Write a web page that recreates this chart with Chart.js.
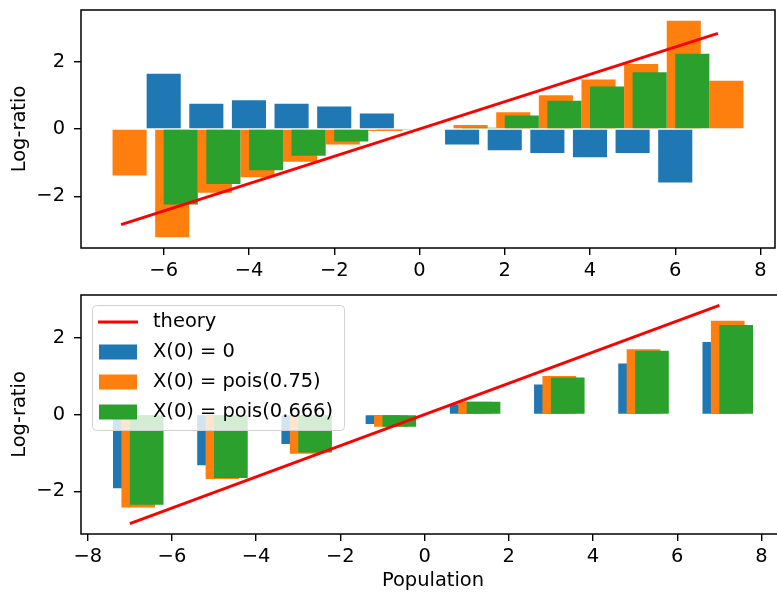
<!DOCTYPE html>
<html>
<head>
<meta charset="utf-8">
<script src="https://cdn.jsdelivr.net/npm/chart.js@4.4.1/dist/chart.umd.min.js"></script>
<style>
  html, body { margin: 0; padding: 0; background: #fff; }
  #wrap { position: relative; width: 777px; height: 593px; overflow: hidden; }
  canvas { position: absolute; left: 0; }
</style>
</head>
<body>
<div id="wrap">
  <canvas id="topChart" width="810" height="285" style="top:0"></canvas>
  <canvas id="botChart" width="810" height="308" style="top:285px"></canvas>
</div>
<script>
// 上段　各母集団の対数比
const topBluePos = [-6, -5, -4, -3, -2, -1, 1, 2, 3, 4, 5, 6];
const topBlue = [1.64, 0.75, 0.85, 0.75, 0.67, 0.46, -0.46, -0.63, -0.71, -0.84, -0.71, -1.59];
const topOrangePos = [-6.8, -5.8, -4.8, -3.8, -2.8, -1.8, -0.8, 1.2, 2.2, 3.2, 4.2, 5.2, 6.2, 7.2];
const topOrange = [-1.38, -3.21, -1.89, -1.43, -0.97, -0.46, -0.06, 0.12, 0.50, 1.00, 1.47, 1.93, 3.21, 1.43];
const topGreenPos = [-5.6, -4.6, -3.6, -2.6, -1.6, -0.6, 1.4, 2.4, 3.4, 4.4, 5.4, 6.4];
const topGreen = [-2.24, -1.63, -1.22, -0.79, -0.37, -0.03, 0.04, 0.40, 0.84, 1.26, 1.68, 2.23];

// 下段
const botBluePos = [-7, -5, -3, -1, 1, 3, 5, 7];
const botBlue = [-1.92, -1.32, -0.77, -0.25, 0.27, 0.78, 1.33, 1.89];
const botOrangePos = [-6.8, -4.8, -2.8, -0.8, 1.2, 3.2, 5.2, 7.2];
const botOrange = [-2.42, -1.68, -1.02, -0.32, 0.33, 1.00, 1.70, 2.44];
const botGreenPos = [-6.6, -4.6, -2.6, -0.6, 1.4, 3.4, 5.4, 7.4];
const botGreen = [-2.35, -1.65, -0.99, -0.32, 0.33, 0.96, 1.66, 2.33];

// 理論値（直線）
const theoryX = [-7, 7];
const theoryY = [-2.84, 2.84];

const seriesLabels = ['theory', 'X(0) = 0', 'X(0) = pois(0.75)', 'X(0) = pois(0.666)'];

// 軸
const topXTicks = [-6, -4, -2, 0, 2, 4, 6, 8];
const botXTicks = [-8, -6, -4, -2, 0, 2, 4, 6, 8];
const yTicks = [-2, 0, 2];
const topXRange = [-7.94, 8.34];
const botXRange = [-8.16, 8.56];
const topYRange = [-3.53, 3.53];
const botYRange = [-3.11, 3.11];

const fontPx = 19.44;
Chart.defaults.font.family = '"DejaVu Sans", sans-serif';
Chart.defaults.font.size = fontPx;
Chart.defaults.color = '#000';

const colors = ['#ff0000', '#1f77b4', '#ff7f0e', '#2ca02c'];

function pts(xs, ys) {
  return xs.map((x, i) => ({ x: x, y: ys[i] }));
}

function minusLabel(v) {
  return v < 0 ? '\u2212' + Math.abs(v) : String(v);
}

// 枠線
const frame = {
  id: 'frame',
  afterDatasetsDraw(chart) {
    const a = chart.chartArea;
    const ctx = chart.ctx;
    ctx.save();
    ctx.strokeStyle = '#000';
    ctx.lineWidth = 1.5;
    ctx.strokeRect(a.left, a.top, a.right - a.left, a.bottom - a.top);
    ctx.restore();
  }
};

// グラフ内凡例（左上）
const innerLegend = {
  id: 'innerLegend',
  afterDraw(chart) {
    if (!chart.options.plugins.innerLegend || !chart.options.plugins.innerLegend.show) return;
    const ctx = chart.ctx;
    const a = chart.chartArea;
    const sets = chart.data.datasets;
    ctx.save();
    ctx.font = fontPx + 'px "DejaVu Sans"';
    let tw = 0;
    sets.forEach(d => { tw = Math.max(tw, ctx.measureText(d.label).width); });
    const x0 = a.left + 11, y0 = a.top + 10;
    const w = 61 + tw + 11, h = sets.length * 30 + 5;
    ctx.beginPath();
    ctx.roundRect(x0 + 0.5, y0 + 0.5, w, h, 4);
    ctx.fillStyle = 'rgba(255,255,255,0.8)';
    ctx.fill();
    ctx.strokeStyle = '#d0d0d0';
    ctx.lineWidth = 1;
    ctx.stroke();
    sets.forEach((d, i) => {
      const cy = y0 + 17 + i * 30;
      if (d.type === 'line') {
        ctx.beginPath();
        ctx.moveTo(x0 + 6, cy);
        ctx.lineTo(x0 + 46, cy);
        ctx.strokeStyle = d.borderColor;
        ctx.lineWidth = 2.9;
        ctx.stroke();
      } else {
        ctx.fillStyle = d.backgroundColor;
        ctx.fillRect(x0 + 7, cy - 7.5, 38, 15);
      }
      ctx.fillStyle = '#000';
      ctx.textBaseline = 'middle';
      ctx.textAlign = 'left';
      ctx.fillText(d.label, x0 + 61, cy);
    });
    ctx.restore();
  }
};

function drawPanel(id, blue, orange, green, xRange, yRange, xTicks, xTitle, xHeight, padRight, legendOn) {
  const bar = (label, data, color, order) => ({
    label: label,
    data: data,
    backgroundColor: color,
    borderWidth: 0,
    categoryPercentage: 1,
    barPercentage: 4, // 最小間隔0.2 × 4 = 幅0.8
    grouped: false,
    order: order
  });
  const ctx = document.getElementById(id).getContext('2d');
  return new Chart(ctx, {
    type: 'bar',
    data: {
      datasets: [
        {
          type: 'line',
          label: seriesLabels[0],
          data: pts(theoryX, theoryY),
          borderColor: colors[0],
          borderWidth: 2.9,
          pointRadius: 0,
          fill: false,
          order: 0
        },
        bar(seriesLabels[1], blue, colors[1], 3),
        bar(seriesLabels[2], orange, colors[2], 2),
        bar(seriesLabels[3], green, colors[3], 1)
      ]
    },
    options: {
      responsive: false,
      animation: false,
      layout: { padding: { top: 10, right: padRight, bottom: 0, left: 0 } },
      plugins: {
        legend: { display: false },
        tooltip: { enabled: false },
        innerLegend: { show: legendOn }
      },
      scales: {
        x: {
          type: 'linear',
          min: xRange[0],
          max: xRange[1],
          offset: false,
          afterBuildTicks: s => { s.ticks = xTicks.map(v => ({ value: v })); },
          afterFit: s => { s.height = xHeight; s.paddingLeft = 0; s.paddingRight = 0; },
          grid: { offset: false, drawOnChartArea: false, drawTicks: true, tickLength: 7, tickColor: '#000', lineWidth: 1.4 },
          border: { display: false },
          ticks: { padding: 4, maxRotation: 0, autoSkip: false, callback: minusLabel },
          title: { display: !!xTitle, text: xTitle, padding: { top: 0, bottom: 0 } }
        },
        y: {
          min: yRange[0],
          max: yRange[1],
          afterBuildTicks: s => { s.ticks = yTicks.map(v => ({ value: v })); },
          afterFit: s => { s.width = 81; s.paddingTop = 0; s.paddingBottom = 0; },
          grid: { drawOnChartArea: false, drawTicks: true, tickLength: 7, tickColor: '#000', lineWidth: 1.4 },
          border: { display: false },
          ticks: { padding: 9, callback: minusLabel },
          title: { display: true, text: 'Log-ratio', padding: { top: 8, bottom: 0 } }
        }
      }
    },
    plugins: [frame, innerLegend]
  });
}

drawPanel('topChart',
  pts(topBluePos, topBlue), pts(topOrangePos, topOrange), pts(topGreenPos, topGreen),
  topXRange, topYRange, topXTicks, '', 37, 35, false);

drawPanel('botChart',
  pts(botBluePos, botBlue), pts(botOrangePos, botOrange), pts(botGreenPos, botGreen),
  botXRange, botYRange, botXTicks, 'Population', 59, 25, true);
</script>
</body>
</html>
